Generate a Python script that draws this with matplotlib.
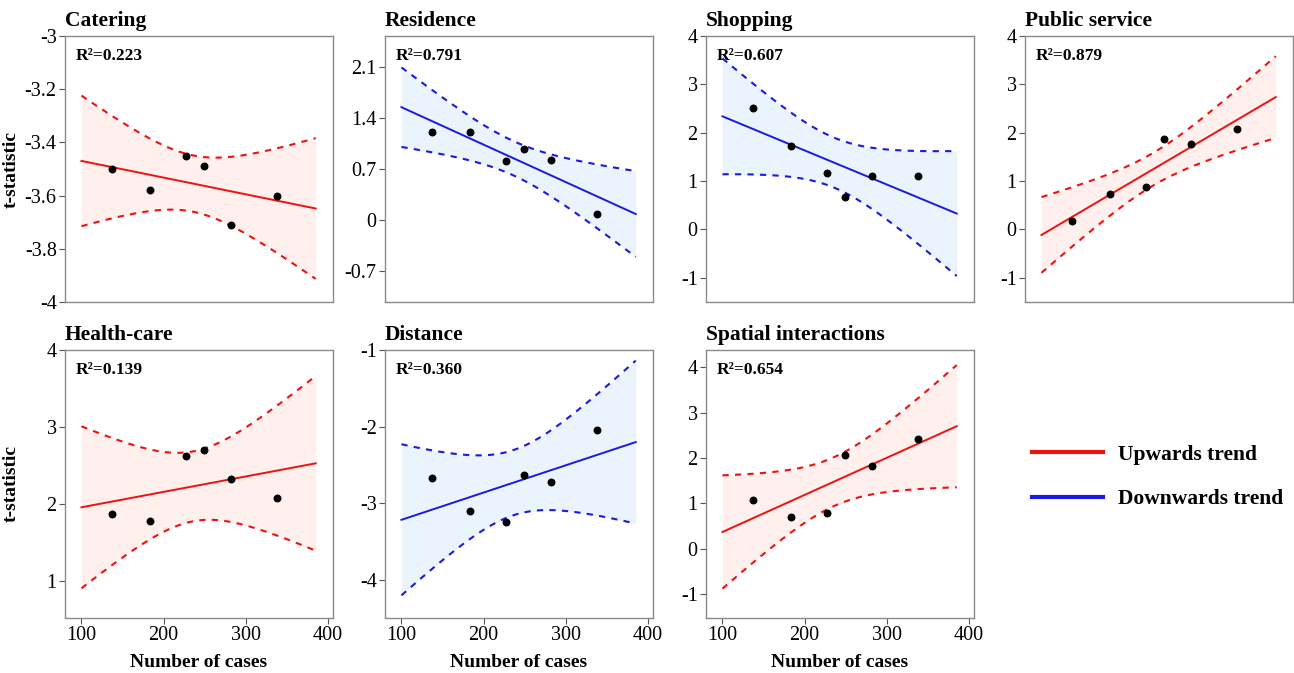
import numpy as np
import matplotlib
matplotlib.use("Agg")
import matplotlib.pyplot as plt
from matplotlib.lines import Line2D

plt.rcParams['font.family'] = ['Liberation Serif', 'DejaVu Serif']

# number of cases (same for every panel)
cases = [137, 183, 227, 249, 282, 338]

titles = ["Catering", "Residence", "Shopping", "Public service",
          "Health-care", "Distance", "Spatial interactions"]
catering = [-3.50, -3.58, -3.45, -3.49, -3.71, -3.60]
residence = [1.20, 1.20, 0.81, 0.97, 0.82, 0.09]
shopping = [2.51, 1.73, 1.16, 0.68, 1.10, 1.10]
public_service = [0.17, 0.73, 0.88, 1.86, 1.76, 2.08]
health_care = [1.87, 1.78, 2.63, 2.70, 2.32, 2.08]
distance = [-2.67, -3.10, -3.24, -2.63, -2.72, -2.04]
spatial = [1.07, 0.70, 0.79, 2.07, 1.83, 2.42]
r2_labels = ["0.223", "0.791", "0.607", "0.879", "0.139", "0.360", "0.654"]
trend = ["up", "down", "down", "up", "up", "down", "up"]

y_ticks = [
    [-4, -3.8, -3.6, -3.4, -3.2, -3],
    [-0.7, 0, 0.7, 1.4, 2.1],
    [-1, 0, 1, 2, 3, 4],
    [-1, 0, 1, 2, 3, 4],
    [1, 2, 3, 4],
    [-4, -3, -2, -1],
    [-1, 0, 1, 2, 3, 4],
]
y_lims = [(-4, -3), (-1.12, 2.52), (-1.5, 4), (-1.5, 4),
          (0.52, 4), (-4.5, -1), (-1.53, 4.38)]
x_ticks = [100, 200, 300, 400]

series = [catering, residence, shopping, public_service,
          health_care, distance, spatial]

colors = {"up": ("#ee1111", "#fff0ed"), "down": ("#1a1ae0", "#ebf3fd")}
T_95 = 2.776  # t quantile, df = 4

W, H = 1294, 673
fig = plt.figure(figsize=(W / 100, H / 100), dpi=100)

lefts = [65, 385, 706, 1025]
rows = [(36, 302), (350, 618)]
panel_w = 268


def panel_rect(i):
    r, c = divmod(i, 4)
    top, bot = rows[r]
    return [lefts[c] / W, (H - bot) / H, panel_w / W, (bot - top) / H]


for i, y in enumerate(series):
    ax = fig.add_axes(panel_rect(i))
    x = np.array(cases, dtype=float)
    y = np.array(y, dtype=float)
    line_c, fill_c = colors[trend[i]]

    slope, icpt = np.polyfit(x, y, 1)
    resid = y - (slope * x + icpt)
    n = len(x)
    s = np.sqrt(np.sum(resid ** 2) / (n - 2))
    sxx = np.sum((x - x.mean()) ** 2)
    xl = np.linspace(100, 385, 120)
    yl = slope * xl + icpt
    half = T_95 * s * np.sqrt(1 / n + (xl - x.mean()) ** 2 / sxx)

    ax.fill_between(xl, yl - half, yl + half, color=fill_c, lw=0, zorder=1)
    ax.plot(xl, yl + half, color=line_c, ls=(0, (3, 3)), lw=1.5, zorder=2)
    ax.plot(xl, yl - half, color=line_c, ls=(0, (3, 3)), lw=1.5, zorder=2)
    ax.plot(xl, yl, color=line_c, lw=1.4, zorder=3)
    ax.scatter(x, y, s=22, color="black", zorder=4)

    ax.set_xlim(80, 406)
    ax.set_ylim(*y_lims[i])
    ax.set_yticks(y_ticks[i])
    ax.set_yticklabels([f"{v:g}" for v in y_ticks[i]])
    for sp in ax.spines.values():
        sp.set_color("#8a8a8a")
        sp.set_linewidth(1.0)
    ax.tick_params(colors="#555555", labelcolor="black", labelsize=14.5,
                   length=4, width=0.8, pad=2)

    if i < 4:
        ax.set_xticks([])
    else:
        ax.set_xticks(x_ticks)
        ax.set_xlabel("Number of cases", fontsize=14, fontweight="bold",
                      labelpad=6)
    if i in (0, 4):
        ax.set_ylabel("t-statistic", fontsize=14, fontweight="bold")
        ax.yaxis.set_label_coords(-0.17, 0.5)

    ax.set_title(titles[i], loc="left", fontsize=15.5, fontweight="bold",
                 pad=7, x=0.0)
    ax.text(0.04, 0.955, "R\u00b2=" + r2_labels[i], transform=ax.transAxes,
            fontsize=12.5, fontweight="bold", va="top", ha="left")

# legend in the empty slot
handles = [Line2D([0], [0], color=colors["up"][0], lw=3),
           Line2D([0], [0], color=colors["down"][0], lw=3)]
fig.legend(handles, ["Upwards trend", "Downwards trend"],
           loc="center left", bbox_to_anchor=(1032 / W, (H - 477) / H),
           frameon=False, borderpad=0, borderaxespad=0,
           handlelength=3.3, handletextpad=0.7,
           labelspacing=1.15, prop={"size": 15.5, "weight": "bold"})

fig.savefig("out.png", dpi=100)
